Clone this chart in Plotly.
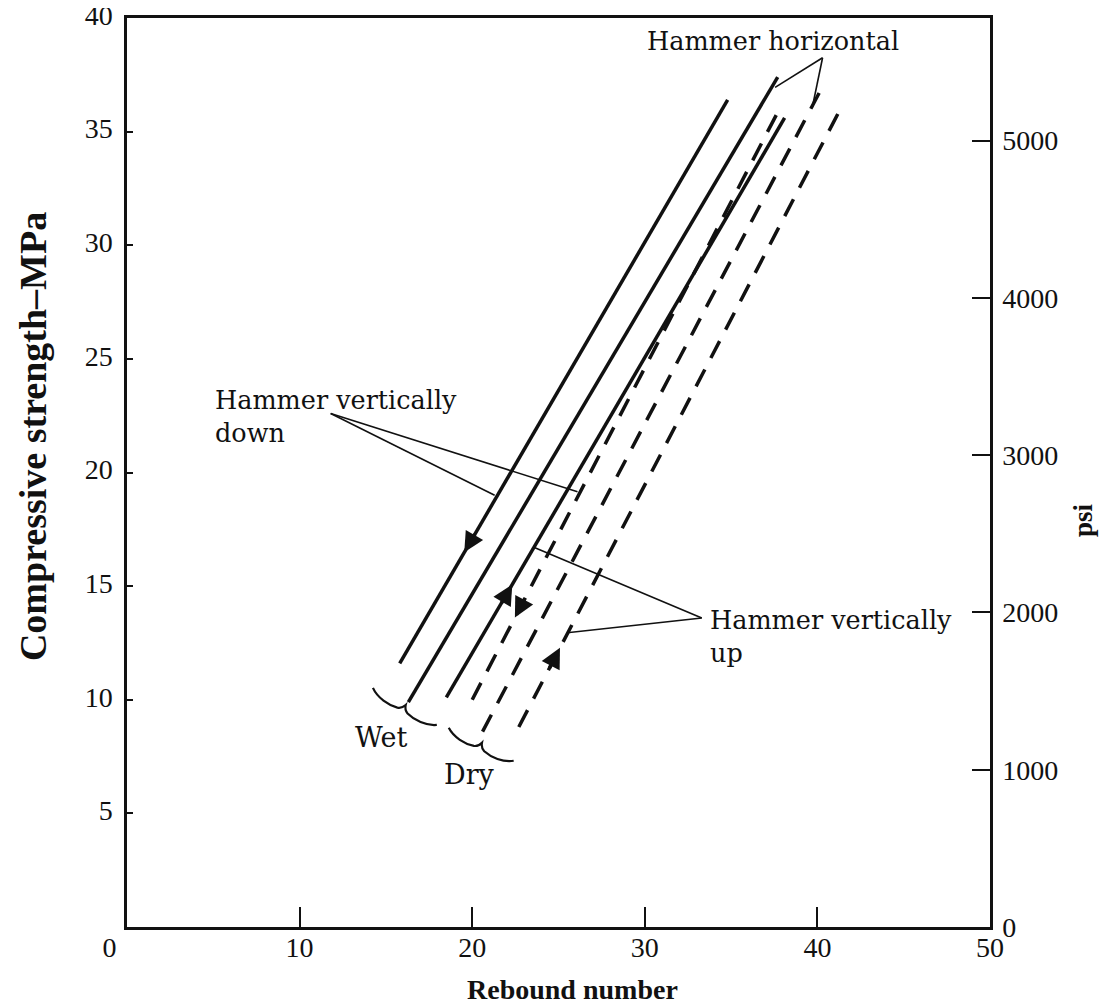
import plotly.graph_objects as go

# ---------------- data ----------------
# solid = wet, dashed = dry
rebound_wet_down = [15.8, 34.8]
strength_wet_down = [11.6, 36.4]
rebound_wet_horizontal = [16.3, 37.7]
strength_wet_horizontal = [9.9, 37.4]
rebound_wet_up = [18.5, 38.1]
strength_wet_up = [10.1, 35.6]
rebound_dry_down = [20.0, 37.8]
strength_dry_down = [10.0, 36.0]
rebound_dry_horizontal = [20.6, 40.1]
strength_dry_horizontal = [8.6, 36.7]
rebound_dry_up = [22.7, 41.2]
strength_dry_up = [8.8, 35.8]

x_ticks = [0, 10, 20, 30, 40, 50]
x_tick_labels = ["0\u00a0\u00a0\u00a0\u00a0\u00a0", "10", "20", "30", "40", "50"]
y_ticks = [5, 10, 15, 20, 25, 30, 35, 40]
y_tick_labels = ["5", "10", "15", "20", "25", "30", "35", "40"]
psi_ticks = [0, 1000, 2000, 3000, 4000, 5000]
psi_tick_labels = ["0", "1000", "2000", "3000", "4000", "5000"]
PSI_TOP = 5780

# ---------------- styling ----------------
INK = "#111111"
SERIF = "Liberation Serif, Times New Roman, serif"
TEXT_FONT = "DejaVu Serif, serif"
W, H = 1112, 1005
ML, MR, MT, MB = 119, 130, 10, 86   # page body adds 8px offset
PX_X = (W - ML - MR) / 50.0
PX_Y = (H - MT - MB) / 40.0

series = [
    (rebound_wet_down, strength_wet_down, "solid"),
    (rebound_wet_horizontal, strength_wet_horizontal, "solid"),
    (rebound_wet_up, strength_wet_up, "solid"),
    (rebound_dry_down, strength_dry_down, "19px,13px"),
    (rebound_dry_horizontal, strength_dry_horizontal, "19px,13px"),
    (rebound_dry_up, strength_dry_up, "19px,13px"),
]

fig = go.Figure()
for xs, ys, dash in series:
    fig.add_trace(go.Scatter(x=xs, y=ys, mode="lines",
                             line=dict(color=INK, width=3.5, dash=dash),
                             showlegend=False, hoverinfo="skip"))
# trace holding the psi axis
fig.add_trace(go.Scatter(x=[None], y=[None], yaxis="y2", showlegend=False))

annotations = []
shapes = []

# direction arrows: (series x, series y, fraction along line, +1 up / -1 down)
arrows = [
    (rebound_wet_down, strength_wet_down, 0.197, -1),
    (rebound_wet_up, strength_wet_up, 0.195, 1),
    (rebound_dry_down, strength_dry_down, 0.139, -1),
    (rebound_dry_up, strength_dry_up, 0.129, 1),
]
for xs, ys, t, d in arrows:
    dx, dy = xs[1] - xs[0], ys[1] - ys[0]
    tx, ty = xs[0] + t * dx, ys[0] + t * dy
    k = 0.035 * d
    annotations.append(dict(x=tx, y=ty, ax=tx - k * dx, ay=ty - k * dy,
                            xref="x", yref="y", axref="x", ayref="y",
                            text="", showarrow=True, arrowhead=2,
                            arrowsize=1.15, arrowwidth=3.5, arrowcolor=INK,
                            standoff=0, startstandoff=0))

# leader lines for the labels
leaders = [
    ((40.3, 38.25), [(37.55, 36.95), (39.7, 36.05)]),
    ((11.8, 22.6), [(26.1, 19.15), (21.3, 19.0)]),
    ((33.3, 13.6), [(23.6, 16.7), (25.5, 12.95)]),
]
for (ax0, ay0), ends in leaders:
    for ex, ey in ends:
        shapes.append(dict(type="line", xref="x", yref="y", x0=ax0, y0=ay0,
                           x1=ex, y1=ey, line=dict(color=INK, width=1.6)))

labels = [
    ("Hammer horizontal", 30.0, 39.0, 25.5),
    ("Hammer vertically<br>down", 4.98, 22.45, 25.5),
    ("Hammer vertically<br>up", 33.66, 12.8, 25.5),
]
for txt, x, y, size in labels:
    annotations.append(dict(x=x, y=y, xref="x", yref="y", text=txt,
                            showarrow=False, xanchor="left", yanchor="middle",
                            align="left",
                            font=dict(family=TEXT_FONT, size=size, color=INK)))
for txt, x, y in [("Wet", 14.77, 8.36), ("Dry", 19.87, 6.7)]:
    annotations.append(dict(x=x, y=y, xref="x", yref="y", text=txt,
                            showarrow=False, xanchor="center", yanchor="middle",
                            font=dict(family=TEXT_FONT, size=27, color=INK)))


# braces under the line ends (gentle wave with a small cusp)
def brace_path(p0, p1, h_px):
    s0 = (p0[0] * PX_X, -p0[1] * PX_Y)
    s1 = (p1[0] * PX_X, -p1[1] * PX_Y)
    L = ((s1[0] - s0[0]) ** 2 + (s1[1] - s0[1]) ** 2) ** 0.5
    u = ((s1[0] - s0[0]) / L, (s1[1] - s0[1]) / L)
    n = (u[1], -u[0])

    def pt(a, b):
        sx = s0[0] + a * L * u[0] + b * h_px * n[0]
        sy = s0[1] + a * L * u[1] + b * h_px * n[1]
        return f"{sx / PX_X:.4f},{-sy / PX_Y:.4f}"

    return ("M " + pt(0, 0.3)
            + " C " + pt(0.12, -0.5) + " " + pt(0.3, -0.6) + " " + pt(0.42, -0.3)
            + " Q " + pt(0.48, -0.1) + " " + pt(0.5, 0.5)
            + " Q " + pt(0.52, -0.1) + " " + pt(0.58, -0.3)
            + " C " + pt(0.7, -0.6) + " " + pt(0.88, -0.5) + " " + pt(1.0, 0.3))


for p0, p1 in [((14.18, 10.43), (17.88, 8.80)), ((18.58, 8.67), (22.34, 7.22))]:
    shapes.append(dict(type="path", xref="x", yref="y",
                       path=brace_path(p0, p1, 8),
                       line=dict(color=INK, width=2.2)))

# axis titles
annotations += [
    dict(x=0.5157, y=-0.069, xref="paper", yref="paper",
         text="<b>Rebound number</b>", showarrow=False,
         xanchor="center", yanchor="middle",
         font=dict(family=SERIF, size=28, color=INK)),
    dict(x=-0.109, y=0.54, xref="paper", yref="paper",
         text="<b>Compressive strength\u2013MPa</b>", showarrow=False,
         textangle=-90, xanchor="center", yanchor="middle",
         font=dict(family=SERIF, size=38, color=INK)),
    dict(x=1.1078, y=0.4477, xref="paper", yref="paper",
         text="<b>psi</b>", showarrow=False, textangle=-90,
         xanchor="center", yanchor="middle",
         font=dict(family=SERIF, size=27, color=INK)),
]

axis_common = dict(showgrid=False, zeroline=False, showline=True,
                   linecolor=INK, linewidth=2.5, ticks="inside",
                   tickcolor=INK, tickwidth=1.6, automargin=False,
                   ticklabeloverflow="allow",
                   tickfont=dict(family=SERIF, size=28, color=INK))

fig.update_layout(
    width=W, height=H,
    margin=dict(l=ML, r=MR, t=MT, b=MB, autoexpand=False),
    paper_bgcolor="white", plot_bgcolor="white",
    showlegend=False,
    xaxis=dict(range=[0, 50], tickvals=x_ticks, ticktext=x_tick_labels,
               ticklen=20, mirror=True, ticklabelstandoff=-6, **axis_common),
    yaxis=dict(range=[0, 40], tickvals=y_ticks, ticktext=y_tick_labels,
               ticklen=6, ticklabelstandoff=6, ticklabelshift=-3, **axis_common),
    yaxis2=dict(range=[0, PSI_TOP], tickvals=psi_ticks, ticktext=psi_tick_labels,
                overlaying="y", side="right", ticklen=18,
                ticklabelstandoff=4, **axis_common),
    annotations=annotations,
    shapes=shapes,
)

fig.write_html("out.html")
